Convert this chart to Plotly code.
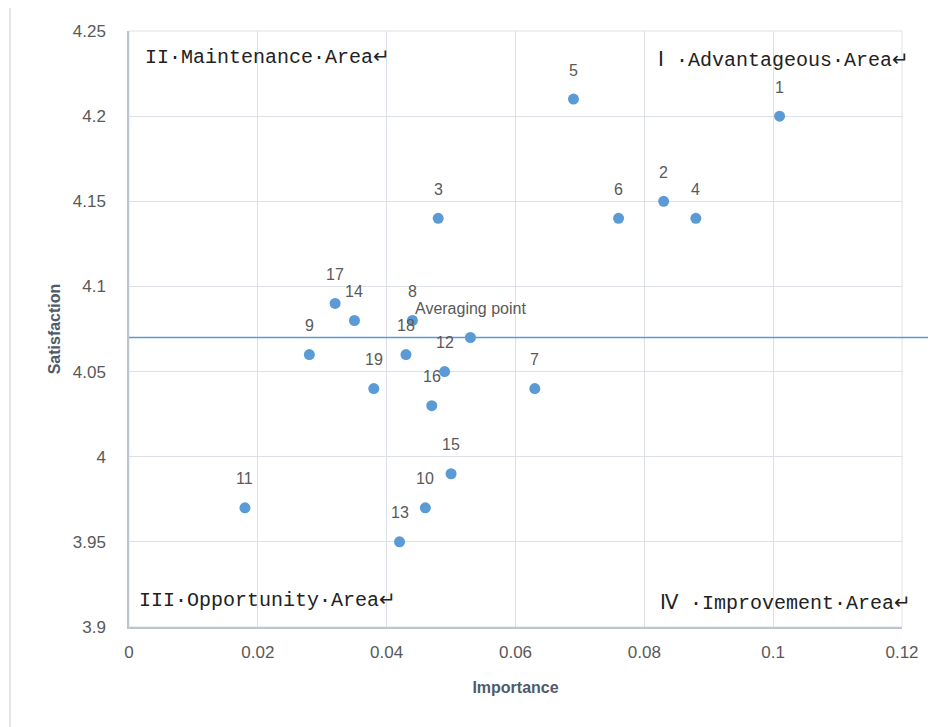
import plotly.graph_objects as go

# Data
labels = ["1", "2", "3", "4", "5", "6", "7", "8", "9", "10",
          "11", "12", "13", "14", "15", "16", "17", "18", "19"]
importance = [0.101, 0.083, 0.048, 0.088, 0.069, 0.076, 0.063, 0.044, 0.028, 0.046,
              0.018, 0.049, 0.042, 0.035, 0.050, 0.047, 0.032, 0.043, 0.038]
satisfaction = [4.20, 4.15, 4.14, 4.14, 4.21, 4.14, 4.04, 4.08, 4.06, 3.97,
                3.97, 4.05, 3.95, 4.08, 3.99, 4.03, 4.09, 4.06, 4.04]
avg_label = "Averaging point"
avg_importance = 0.053
avg_satisfaction = 4.07

quadrant_texts = ["II·Maintenance·Area↵", "Ⅰ ·Advantageous·Area↵",
                  "III·Opportunity·Area↵", "Ⅳ ·Improvement·Area↵"]

BLUE = "#5B9BD5"
GREY = "#595959"

all_x = importance + [avg_importance]
all_y = satisfaction + [avg_satisfaction]
all_t = labels + [avg_label]

fig = go.Figure()
fig.add_trace(go.Scatter(
    x=all_x, y=all_y, mode="markers",
    marker=dict(color=BLUE, size=11),
    hoverinfo="skip", showlegend=False,
))

for xv, yv, t in zip(all_x, all_y, all_t):
    fig.add_annotation(x=xv, y=yv, text=t, showarrow=False, yshift=29,
                       font=dict(family="Liberation Sans", size=16, color=GREY))

# horizontal averaging line
fig.add_shape(type="line", xref="paper", yref="y", x0=0, x1=1.06,
              y0=avg_satisfaction, y1=avg_satisfaction,
              line=dict(color=BLUE, width=1.5))

# outer chart frame
fig.add_shape(type="rect", xref="paper", yref="paper", x0=-0.154, x1=1.2,
              y0=-0.4, y1=1.0436, line=dict(color="#D9DDE3", width=1.5),
              fillcolor="rgba(0,0,0,0)", layer="below")

qpos = [(0.018, 0.956), (0.682, 0.950), (0.010, 0.045), (0.684, 0.040)]
for (px, py), t in zip(qpos, quadrant_texts):
    fig.add_annotation(xref="paper", yref="paper", x=px, y=py, text=t,
                       showarrow=False, xanchor="left", yanchor="middle",
                       font=dict(family="Liberation Mono", size=20, color="#222222"))

fig.update_layout(
    width=936, height=727,
    margin=dict(l=121, r=42, t=23, b=108),
    paper_bgcolor="white", plot_bgcolor="white",
    font=dict(family="Liberation Sans", color=GREY),
)
fig.update_xaxes(
    range=[0, 0.12], dtick=0.02, tickformat="~g",
    showgrid=True, gridcolor="#DDE1E7", gridwidth=1,
    showline=True, linecolor="#BFC5CE", linewidth=1.5,
    zeroline=False, ticks="", ticklabelstandoff=9,
    tickfont=dict(size=17, color=GREY),
    title=dict(text="<b>Importance</b>", standoff=21,
               font=dict(size=16, color="#4F5B6B")),
    mirror=False,
)
fig.update_yaxes(
    range=[3.9, 4.25], dtick=0.05, tickformat="~g",
    showgrid=True, gridcolor="#DDE1E7", gridwidth=1,
    showline=True, linecolor="#BFC5CE", linewidth=1.5,
    zeroline=False, ticks="", ticklabelstandoff=18,
    tickfont=dict(size=17, color=GREY),
    title=dict(text="<b>Satisfaction</b>", standoff=8,
               font=dict(size=16, color="#4F5B6B")),
)
# top and right boundary as light grid-colored lines
fig.add_shape(type="rect", xref="paper", yref="paper", x0=0, x1=1, y0=0, y1=1,
              line=dict(color="#DDE1E7", width=1), layer="below")

fig.write_html("out.html")
